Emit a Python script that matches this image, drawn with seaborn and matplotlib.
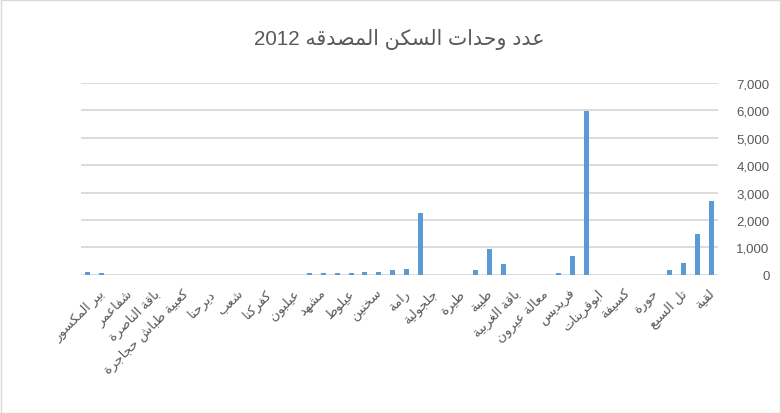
import numpy as np
import pandas as pd
import matplotlib
matplotlib.use("Agg")
import matplotlib.pyplot as plt
import matplotlib.transforms as mtransforms
from matplotlib.patches import Rectangle
import seaborn as sns

# ---------------- data ----------------
title_text = "عدد وحدات السكن المصدقه 2012"

# labels visible on the axis (every second category)
shown_labels = [
    "بير المكسور", "شفاعمر", "باقة الناصرة", "كعبية طباش حجاجرة", "ديرحنا",
    "شعب", "كفركنا", "عيلبون", "مشهد", "عيلوط", "سخنين", "رامة", "جلجولية",
    "طيرة", "طيبة", "باقة الغربية", "معالة عيرون", "فريديس", "ابوقرينات",
    "كسيفة", "حورة", "تل السبع", "لقية",
]

# 46 categories in display order
category_index = list(range(46))
units_2012 = [
    110, 60, 0, 0, 0, 0, 0, 0, 0, 0, 0, 0, 0, 0, 0, 0,
    60, 60, 60, 60, 100, 110, 170, 220, 2250,
    0, 0, 0, 170, 940, 380, 0, 0, 0,
    50, 700, 5980, 0, 0, 0, 0, 0,
    180, 430, 1480, 2680,
]
y_ticks = [0, 1000, 2000, 3000, 4000, 5000, 6000, 7000]

# ---------------- simple Arabic shaping ----------------
FORMS = {
    'ء': ('\uFE80',),
    'آ': ('\uFE81', '\uFE82'), 'أ': ('\uFE83', '\uFE84'), 'ؤ': ('\uFE85', '\uFE86'),
    'إ': ('\uFE87', '\uFE88'), 'ئ': ('\uFE89', '\uFE8A', '\uFE8B', '\uFE8C'),
    'ا': ('\uFE8D', '\uFE8E'), 'ب': ('\uFE8F', '\uFE90', '\uFE91', '\uFE92'),
    'ة': ('\uFE93', '\uFE94'), 'ت': ('\uFE95', '\uFE96', '\uFE97', '\uFE98'),
    'ث': ('\uFE99', '\uFE9A', '\uFE9B', '\uFE9C'), 'ج': ('\uFE9D', '\uFE9E', '\uFE9F', '\uFEA0'),
    'ح': ('\uFEA1', '\uFEA2', '\uFEA3', '\uFEA4'), 'خ': ('\uFEA5', '\uFEA6', '\uFEA7', '\uFEA8'),
    'د': ('\uFEA9', '\uFEAA'), 'ذ': ('\uFEAB', '\uFEAC'), 'ر': ('\uFEAD', '\uFEAE'),
    'ز': ('\uFEAF', '\uFEB0'), 'س': ('\uFEB1', '\uFEB2', '\uFEB3', '\uFEB4'),
    'ش': ('\uFEB5', '\uFEB6', '\uFEB7', '\uFEB8'), 'ص': ('\uFEB9', '\uFEBA', '\uFEBB', '\uFEBC'),
    'ض': ('\uFEBD', '\uFEBE', '\uFEBF', '\uFEC0'), 'ط': ('\uFEC1', '\uFEC2', '\uFEC3', '\uFEC4'),
    'ظ': ('\uFEC5', '\uFEC6', '\uFEC7', '\uFEC8'), 'ع': ('\uFEC9', '\uFECA', '\uFECB', '\uFECC'),
    'غ': ('\uFECD', '\uFECE', '\uFECF', '\uFED0'), 'ف': ('\uFED1', '\uFED2', '\uFED3', '\uFED4'),
    'ق': ('\uFED5', '\uFED6', '\uFED7', '\uFED8'), 'ك': ('\uFED9', '\uFEDA', '\uFEDB', '\uFEDC'),
    'ل': ('\uFEDD', '\uFEDE', '\uFEDF', '\uFEE0'), 'م': ('\uFEE1', '\uFEE2', '\uFEE3', '\uFEE4'),
    'ن': ('\uFEE5', '\uFEE6', '\uFEE7', '\uFEE8'), 'ه': ('\uFEE9', '\uFEEA', '\uFEEB', '\uFEEC'),
    'و': ('\uFEED', '\uFEEE'), 'ى': ('\uFEEF', '\uFEF0'),
    'ي': ('\uFEF1', '\uFEF2', '\uFEF3', '\uFEF4'),
}
LAM_ALEF = {'ا': ('\uFEFB', '\uFEFC'), 'أ': ('\uFEF7', '\uFEF8'),
            'إ': ('\uFEF9', '\uFEFA'), 'آ': ('\uFEF5', '\uFEF6')}


def dual(c):
    return c in FORMS and len(FORMS[c]) == 4


def joins(c):
    return c in FORMS and len(FORMS[c]) >= 2


def shape(text):
    out = []
    i = 0
    n = len(text)
    while i < n:
        c = text[i]
        prev = text[i - 1] if i > 0 else ''
        if c not in FORMS:
            out.append(c)
            i += 1
            continue
        cp = dual(prev) and joins(c)
        if c == 'ل' and i + 1 < n and text[i + 1] in LAM_ALEF:
            out.append(LAM_ALEF[text[i + 1]][1 if cp else 0])
            i += 2
            continue
        nxt = text[i + 1] if i + 1 < n else ''
        cn = dual(c) and joins(nxt)
        f = FORMS[c]
        if cp and cn:
            out.append(f[3])
        elif cp:
            out.append(f[1])
        elif cn:
            out.append(f[2])
        else:
            out.append(f[0])
        i += 1
    s = ''.join(out)
    # visual order for RTL paragraph: keep digit runs LTR
    runs = []
    for ch in s:
        isd = ch.isdigit()
        if runs and runs[-1][0] == isd:
            runs[-1][1].append(ch)
        else:
            runs.append([isd, [ch]])
    vis = []
    for isd, chars in reversed(runs):
        vis.append(''.join(chars) if isd else ''.join(reversed(chars)))
    return ''.join(vis)


# ---------------- plot ----------------
sns.set_theme(style="white")
plt.rcParams['font.family'] = ['Liberation Sans', 'DejaVu Sans']

df = pd.DataFrame({"idx": category_index, "units": units_2012})

W, H, DPI = 781, 414, 100
fig = plt.figure(figsize=(W / DPI, H / DPI), dpi=DPI)
ax = fig.add_axes([81 / W, 1 - 275.7 / H, (718 - 81) / W, (275.7 - 84) / H])

grid_c = "#D9D9D9"
for v in y_ticks:
    ax.axhline(v, color=grid_c, lw=1.3, zorder=0)

sns.barplot(data=df, x="idx", y="units", order=category_index, color="#5B9BD5",
            saturation=1, width=0.36, linewidth=0, ax=ax, zorder=2)

ax.set_xlim(-0.5, len(category_index) - 0.5)
ax.set_ylim(0, 7000)
ax.set_xlabel("")
ax.set_ylabel("")
for s in ax.spines.values():
    s.set_visible(False)

# y axis on the right
ax.yaxis.tick_right()
ax.set_yticks(y_ticks)
ax.set_yticklabels([f"{v:,}" for v in y_ticks], ha="right")
ax.tick_params(axis="y", length=0, pad=37, labelsize=9.5, labelcolor="#595959")

# x labels, every second category
ax.set_xticks(category_index[::2])
ax.set_xticklabels([shape(t) for t in shown_labels], rotation=45, ha="right",
                   va="center", rotation_mode="anchor", fontsize=9.5, color="#595959")
ax.tick_params(axis="x", length=0, pad=12)
offset = mtransforms.ScaledTranslation(11 / 72, 0, fig.dpi_scale_trans)
for lbl in ax.get_xticklabels():
    lbl.set_transform(lbl.get_transform() + offset)

fig.text(399 / W, 1 - 40 / H, shape(title_text), ha="center", va="center",
         fontsize=14.8, color="#595959")

fig.patches.append(Rectangle((0.5 / W, 0.5 / H), 1 - 1.5 / W, 1 - 1.5 / H,
                             transform=fig.transFigure, fill=False,
                             edgecolor="#D9D9D9", lw=1))

fig.savefig("out.png", dpi=DPI)
